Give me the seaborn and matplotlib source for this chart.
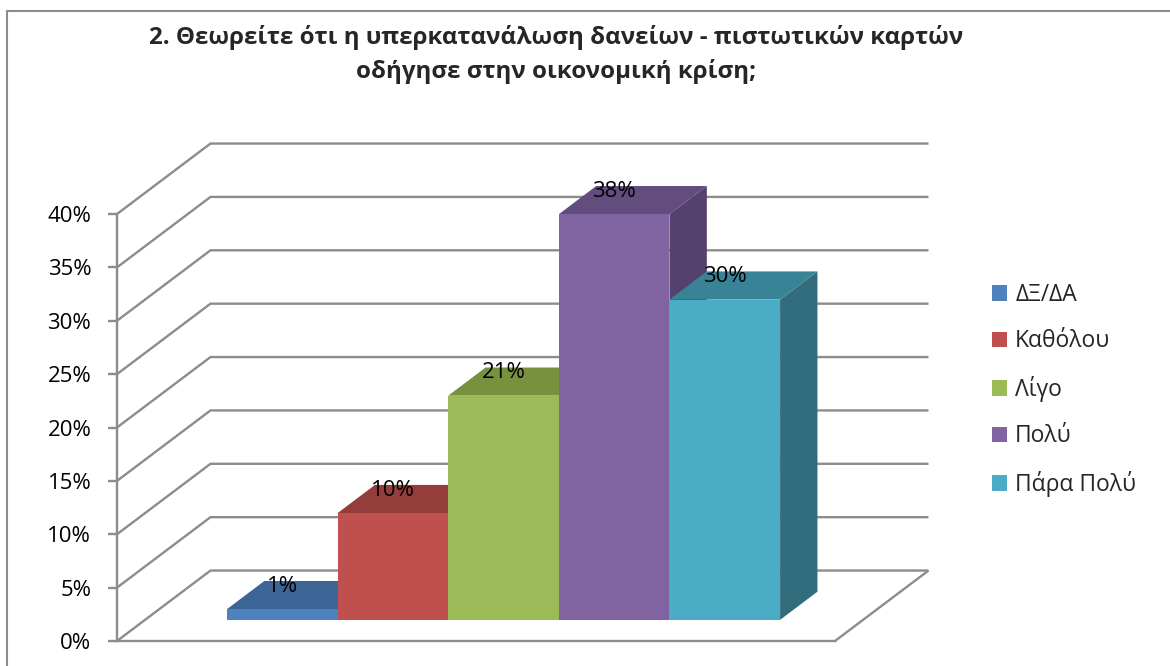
import matplotlib
matplotlib.use("Agg")
import matplotlib.pyplot as plt
import pandas as pd
import seaborn as sns
from matplotlib.patches import Patch
from matplotlib.lines import Line2D
from matplotlib.transforms import Affine2D
from matplotlib.ticker import FuncFormatter

# Survey answers and their shares (%)
categories = ["ΔΞ/ΔΑ", "Καθόλου", "Λίγο", "Πολύ", "Πάρα Πολύ"]
values = [1, 10, 21, 38, 30]
value_labels = ["1%", "10%", "21%", "38%", "30%"]
y_ticks = [0, 5, 10, 15, 20, 25, 30, 35, 40]

title_lines = [
    "2. Θεωρείτε ότι η υπερκατανάλωση δανείων - πιστωτικών καρτών",
    "οδήγησε στην οικονομική κρίση;",
]

# Face shades of each column: front, top and right side
front_colors = ["#4F81BD", "#C0504D", "#9BBB59", "#8064A2", "#4BACC6"]
top_colors = ["#3C6494", "#953D3B", "#77913F", "#634D7E", "#388496"]
side_colors = ["#34557E", "#803432", "#657B36", "#55426C", "#316D7C"]
grid_color = "#8C8C8C"

sns.set_theme(style="white")
plt.rcParams["font.family"] = ["Open Sans", "DejaVu Sans"]

W, H = 1170, 666
fig = plt.figure(figsize=(W / 100, H / 100), dpi=100)
ax = fig.add_axes([117 / W, (H - 641) / H, 718 / W, 427 / H])

df = pd.DataFrame({"answer": categories, "share": values})
sns.barplot(
    data=df, x="answer", y="share", hue="answer",
    order=categories, hue_order=categories, palette=front_colors,
    saturation=1, width=1.0, linewidth=0, legend=False, ax=ax,
)

x0, x1 = -1.24, 5.25
ax.set_xlim(x0, x1)
ax.set_ylim(0, 40)

# Oblique depth of the plot box (data units) and the depth band of the columns
DX, DY = 0.845, 6.6
F0, F1 = 0.3, 0.7
sx, sy = F0 * DX, F0 * DY
bx, by = (F1 - F0) * DX, (F1 - F0) * DY
shift = Affine2D().translate(sx, sy) + ax.transData

# Back wall, side wall and floor lines
for y in y_ticks:
    ax.plot([x0, x0 + DX, x1 + DX], [y, y + DY, y + DY], color=grid_color,
            lw=1.7, zorder=1, clip_on=False, solid_joinstyle="miter",
            solid_capstyle="butt")
ax.plot([x1, x1 + DX], [0, DY], color=grid_color, lw=1.7, zorder=1,
        clip_on=False, solid_capstyle="butt")

# Columns: front faces from seaborn, pushed back into the depth band,
# plus the top and right side faces
for i, p in enumerate(ax.patches):
    xl, w, h = p.get_x(), p.get_width(), p.get_height()
    xr = xl + w
    z = 3 + i
    side = [(xr, 0), (xr, h), (xr + bx, h + by), (xr + bx, by)]
    top = [(xl, h), (xr, h), (xr + bx, h + by), (xl + bx, h + by)]
    ax.fill([q[0] + sx for q in side], [q[1] + sy for q in side],
            color=side_colors[i], lw=0, zorder=z, clip_on=False)
    ax.fill([q[0] + sx for q in top], [q[1] + sy for q in top],
            color=top_colors[i], lw=0, zorder=z, clip_on=False)
    p.set_transform(shift)
    p.set_zorder(z + 0.5)
    p.set_clip_on(False)
    ax.text(xl + w / 2 + sx, h + F1 * DY - 1.0, value_labels[i],
            ha="center", va="baseline", fontsize=16, color="black",
            zorder=20, clip_on=False)

# Axes styling
for name in ("top", "right"):
    ax.spines[name].set_visible(False)
for name in ("left", "bottom"):
    ax.spines[name].set_color(grid_color)
    ax.spines[name].set_linewidth(1.7)
ax.set_facecolor("none")
ax.set_yticks(y_ticks)
ax.yaxis.set_major_formatter(FuncFormatter(lambda v, _: f"{v:.0f}%"))
ax.tick_params(axis="y", left=True, length=6.5, width=1.7, color=grid_color,
               pad=12, labelsize=16, labelcolor="black")
ax.set_xticks([])
ax.set_xlabel("")
ax.set_ylabel("")

# Legend
handles = [Patch(facecolor=c, edgecolor="none") for c in front_colors]
fig.legend(handles, categories, loc="upper left",
           bbox_to_anchor=(992 / W, 1 - 283 / H), frameon=False,
           fontsize=16.5, handlelength=0.66, handleheight=0.66,
           handletextpad=0.35, labelspacing=0.98, borderpad=0,
           borderaxespad=0)

# Title
fig.text(556 / W, 1 - 37 / H, title_lines[0], ha="center", va="center",
         fontsize=17.4, fontweight="bold")
fig.text(556 / W, 1 - 71 / H, title_lines[1], ha="center", va="center",
         fontsize=17.4, fontweight="bold")

# Chart frame
fig.add_artist(Line2D([7 / W, 1], [1 - 10.5 / H, 1 - 10.5 / H],
                      color=grid_color, lw=1.5))
fig.add_artist(Line2D([7 / W, 7 / W], [0, 1 - 10.5 / H],
                      color=grid_color, lw=1.5))

fig.savefig("out.png", dpi=100)
